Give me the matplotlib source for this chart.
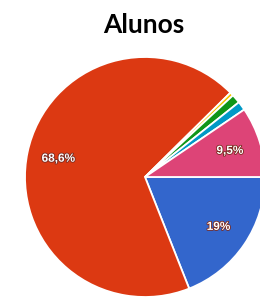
import matplotlib.pyplot as plt
import matplotlib.patheffects as pe

# fatias no sentido horário a partir das 3 horas
categorias = ["Azul", "Vermelho", "Laranja", "Verde", "Ciano", "Rosa"]
valores = [19.0, 68.6, 0.5, 1.2, 1.2, 9.5]
cores = ["#3366cc", "#dc3912", "#f5c400", "#109618", "#0099c6", "#dd4477"]
rotulos = ["19%", "68,6%", "", "", "", "9,5%"]

fig = plt.figure(figsize=(2.60, 3.01), dpi=100)
ax = fig.add_axes([25 / 260, 4 / 301, 240 / 260, 240 / 301])

fatias, textos = ax.pie(
    valores,
    colors=cores,
    startangle=0,
    counterclock=False,
    radius=1.0,
    wedgeprops=dict(edgecolor="white", linewidth=1.3),
    labels=rotulos,
    labeldistance=0.74,
)
for t in textos:
    t.set_color("white")
    t.set_fontsize(8.5)
    t.set_fontweight("bold")
    t.set_family("Liberation Sans")
    t.set_ha("center")
    t.set_va("center")
    t.set_path_effects([pe.withStroke(linewidth=1.2, foreground="#7a2a20")])

ax.set_xlim(-1, 1)
ax.set_ylim(-1, 1)
ax.set_aspect("equal")
ax.axis("off")

fig.text(144 / 260, 1 - 25 / 301, "Alunos", ha="center", va="center",
         fontsize=19, fontweight="bold", family="Lato")

fig.savefig("out.png", dpi=100)
